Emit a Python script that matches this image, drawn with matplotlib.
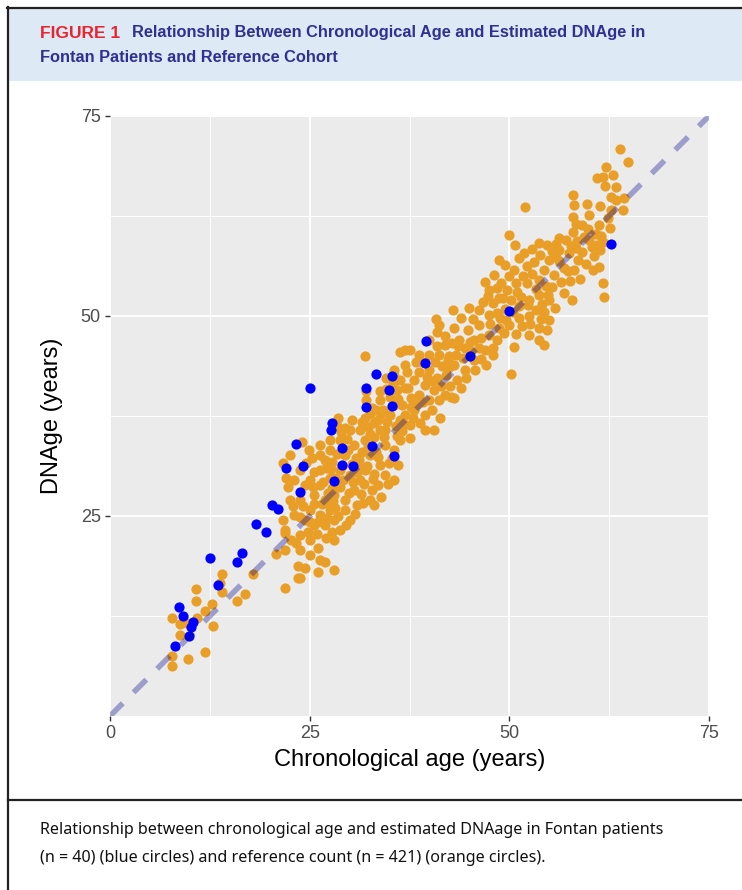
import numpy as np
import matplotlib
matplotlib.use('Agg')
import matplotlib.pyplot as plt
from matplotlib.lines import Line2D
from matplotlib.patches import Rectangle

plt.rcParams['lines.scale_dashes'] = False

# reference cohort (orange): (chronological age, DNAge)
ref_pts = [
    # < 21 y
    (7.8, 12.3), (8.8, 11.5), (8.8, 10.1), (7.8, 7.5), (7.8, 6.2), (9.8, 7.1), (10.8, 15.9),
    (10.8, 14.4), (10.9, 12.3), (11.9, 13.1), (12.8, 14.0), (12.9, 11.3), (11.9, 8.0), (14.0, 17.7),
    (13.8, 16.6), (14.0, 15.5), (15.9, 14.4), (16.9, 15.25), (17.9, 17.7), (20.8, 20.2), (9.6, 11.6),
    # 21-25
    (21.9, 16.0), (21.9, 20.75), (21.9, 22.9), (21.6, 24.5), (22.9, 26.2), (23.5, 18.7), (23.5, 17.25),
    (23.3, 21.6), (22.7, 22.0), (23.75, 24.9), (21.6, 31.6), (22.5, 32.6), (21.9, 23.25), (23.75, 22.6),
    (23.75, 20.75), (24.4, 18.5), (23.75, 17.25), (23.1, 25.1), (22.5, 27.0), (23.75, 27.0), (23.1, 29.5),
    (23.75, 30.75), (24.4, 28.9), (24.4, 24.5), (24.2, 26.3), (24.8, 23.0), (22.3, 28.6), (24.6, 31.6),
    (24.9, 33.3), (24.0, 34.3), (22.0, 29.8),
    # 25-28
    (25.0, 29.5), (25.6, 27.6), (26.9, 27.0), (26.9, 32.0), (26.25, 30.75), (27.5, 29.75), (26.25, 28.9),
    (27.5, 25.75), (26.25, 25.1), (25.0, 25.75), (25.6, 23.9), (26.9, 23.9), (25.0, 22.0), (25.0, 20.1),
    (26.0, 21.0), (26.25, 19.5), (26.0, 18.0), (26.9, 19.25), (27.5, 33.25), (26.25, 33.9), (26.25, 32.6),
    (25.25, 32.25), (27.5, 34.5), (25.6, 26.5), (26.5, 26.5), (27.3, 27.9), (25.5, 30.5), (27.0, 31.0),
    (27.8, 31.8), (26.0, 24.3), (27.2, 24.7), (27.8, 23.0), (25.4, 28.6), (26.7, 29.3), (27.8, 28.5),
    (27.0, 22.3), (25.9, 22.7), (27.3, 26.6), (27.9, 26.9), (25.1, 24.2), (27.7, 30.9),
    # 28-31
    (28.1, 18.25), (28.1, 22.0), (28.75, 23.25), (30.0, 24.5), (29.4, 25.75), (28.1, 24.5), (28.1, 27.6),
    (29.4, 27.0), (30.6, 28.25), (30.9, 26.4), (30.0, 30.1), (28.75, 30.75), (29.4, 32.6), (30.6, 33.9),
    (31.25, 35.75), (30.0, 35.75), (28.75, 34.5), (28.5, 37.25), (29.4, 36.0), (28.8, 28.6), (29.2, 29.5),
    (30.3, 31.5), (29.8, 33.2), (28.4, 32.8), (30.8, 32.2), (28.2, 26.0), (29.9, 27.9), (30.4, 29.3),
    (28.6, 25.0), (29.6, 23.9), (30.7, 25.2), (28.9, 35.5), (29.7, 34.6), (30.3, 37.0), (28.2, 29.7),
    (29.1, 31.3), (28.4, 36.3), (30.9, 30.5),
    # 31-34
    (31.25, 29.5), (32.5, 27.0), (33.1, 26.4), (31.9, 30.75), (33.5, 28.9), (33.75, 31.4), (32.5, 32.6),
    (31.9, 34.5), (33.1, 34.9), (32.25, 36.1), (33.5, 37.0), (33.75, 39.5), (31.9, 37.25), (32.75, 38.5),
    (33.75, 40.6), (31.9, 45.0), (31.6, 33.0), (32.2, 31.2), (33.0, 30.2), (31.4, 27.8), (32.8, 28.2),
    (33.9, 27.4), (31.7, 26.6), (32.3, 33.7), (33.3, 33.0), (31.2, 32.0), (33.8, 35.8), (32.6, 35.3),
    (31.5, 36.8), (33.0, 36.6), (32.1, 39.5), (33.3, 38.2), (31.8, 29.0), (32.9, 29.6), (33.6, 32.4),
    (31.3, 31.0), (32.0, 40.6), (33.9, 37.8), (32.6, 37.8),
    # 34-37
    (34.4, 30.1), (35.6, 29.5), (34.4, 33.9), (35.6, 33.25), (36.25, 34.5), (34.4, 35.75), (35.0, 37.6),
    (35.6, 38.9), (36.25, 37.0), (36.9, 37.6), (36.9, 41.0), (36.25, 42.0), (36.9, 43.9), (36.25, 45.5),
    (35.6, 43.25), (36.9, 45.75), (34.9, 31.6), (35.3, 32.2), (36.0, 31.4), (34.7, 36.8), (35.8, 36.2),
    (36.5, 35.6), (34.2, 38.3), (35.1, 39.9), (36.1, 39.6), (34.6, 40.9), (35.4, 41.5), (36.6, 38.9),
    (34.8, 29.0), (34.3, 34.9), (35.9, 35.0), (36.8, 36.5), (35.5, 42.5), (34.5, 42.3), (35.9, 40.7),
    # 37-40
    (37.5, 45.75), (38.75, 45.1), (38.75, 43.0), (38.1, 42.0), (39.4, 41.4), (38.75, 40.1), (37.75, 39.75),
    (38.1, 38.25), (39.4, 37.6), (39.4, 35.75), (37.5, 36.4), (37.5, 34.75), (40.0, 39.5), (40.0, 43.25),
    (40.0, 45.1), (40.0, 47.0), (37.3, 41.0), (38.4, 39.0), (39.2, 39.3), (37.9, 37.2), (38.8, 36.6),
    (39.7, 42.4), (38.3, 44.2), (37.2, 43.0), (39.1, 44.3), (37.7, 38.6),
    # 40-43
    (40.6, 40.75), (41.9, 40.1), (42.75, 39.9), (41.25, 39.5), (40.6, 35.75), (41.25, 48.9), (41.0, 48.0),
    (41.9, 46.4), (42.5, 45.0), (41.25, 45.1), (41.0, 42.25), (42.1, 42.6), (42.9, 50.75), (43.1, 48.5),
    (40.7, 44.2), (41.6, 43.8), (42.4, 43.6), (40.4, 41.9), (41.5, 41.2), (42.6, 41.3), (40.9, 46.3),
    (42.0, 47.5), (42.8, 46.6), (40.3, 38.3), (41.3, 37.3), (42.3, 44.5), (40.8, 49.6),
    # 43-46
    (43.1, 43.9), (44.4, 43.25), (43.5, 42.0), (43.1, 39.75), (43.75, 47.0), (44.4, 46.0), (45.6, 47.0),
    (45.6, 44.5), (45.0, 51.0), (43.3, 45.1), (44.2, 44.8), (45.2, 45.6), (44.8, 48.3), (45.4, 49.6),
    (43.9, 49.8), (44.6, 42.3), (45.7, 43.3), (44.0, 41.0), (45.1, 46.7), (43.6, 46.3),
    # 46-49
    (46.25, 50.75), (47.5, 50.1), (46.25, 48.9), (47.5, 47.6), (46.9, 45.75), (48.4, 47.0), (48.0, 46.0),
    (48.75, 48.5), (47.1, 43.9), (47.5, 53.25), (46.9, 54.25), (48.1, 55.1), (48.75, 52.25), (48.75, 57.0),
    (49.0, 54.1), (46.7, 51.8), (47.9, 51.6), (48.4, 50.4), (46.4, 47.3), (47.6, 49.0), (48.8, 49.7),
    (46.2, 46.0), (47.9, 45.1), (48.5, 53.5), (47.3, 52.5), (46.5, 44.6),
    # 49-52
    (49.4, 56.4), (50.0, 60.1), (50.75, 58.9), (51.25, 57.25), (50.6, 55.75), (50.25, 52.0), (51.5, 52.4),
    (51.25, 49.75), (50.0, 48.9), (50.6, 46.1), (50.25, 42.75), (51.9, 63.6), (49.5, 50.9), (50.4, 50.5),
    (51.2, 51.2), (49.7, 53.3), (50.8, 54.1), (51.7, 55.0), (49.3, 47.9), (50.8, 47.8), (51.6, 48.8),
    (49.6, 49.5), (51.0, 53.0), (49.9, 55.0), (51.8, 57.9), (49.2, 52.2),
    # 52-55
    (52.5, 52.0), (53.75, 52.6), (54.4, 50.5), (52.5, 50.0), (53.75, 48.5), (54.75, 48.25), (53.75, 47.0),
    (52.25, 54.1), (53.75, 54.5), (54.4, 55.75), (53.1, 56.75), (55.0, 57.0), (54.75, 58.9), (53.75, 59.1),
    (52.9, 58.4), (53.4, 53.4), (54.6, 53.8), (52.3, 51.4), (53.3, 50.8), (54.1, 51.5), (52.6, 49.0),
    (54.0, 49.6), (52.2, 56.2), (53.9, 57.6), (52.4, 47.6), (54.3, 46.4), (54.9, 52.6), (52.8, 55.2),
    # 55-58
    (55.0, 52.0), (55.0, 49.5), (55.6, 55.1), (56.9, 56.0), (56.25, 58.25), (56.25, 59.75), (57.5, 57.9),
    (57.9, 52.0), (55.8, 57.4), (56.5, 54.3), (57.3, 55.6), (57.7, 58.8), (55.4, 53.6), (56.8, 52.9),
    (55.9, 59.0), (57.1, 59.5), (56.2, 56.9), (57.6, 54.4), (55.3, 58.1), (55.7, 51.0),
    # 58-61
    (58.0, 65.1), (58.1, 63.9), (58.0, 62.4), (60.0, 62.6), (58.0, 60.5), (58.5, 59.4), (60.0, 59.5),
    (61.0, 58.9), (59.1, 58.0), (60.6, 57.5), (58.1, 55.75), (59.75, 64.0), (61.0, 67.25), (58.6, 57.0),
    (59.4, 59.9), (60.3, 58.6), (59.6, 56.5), (58.3, 58.5), (60.8, 60.3), (59.1, 61.4), (60.5, 55.8),
    (58.9, 54.6), (59.8, 60.9), (58.4, 61.5),
    # 61+
    (63.9, 70.9), (64.9, 69.25), (62.1, 68.6), (61.75, 67.4), (62.0, 66.25), (63.4, 66.1), (62.75, 64.9),
    (64.25, 63.25), (62.75, 63.25), (61.25, 61.4), (61.75, 59.25), (61.25, 56.1), (61.75, 54.1),
    (61.9, 52.4), (61.5, 60.0), (62.3, 62.3), (61.4, 58.3), (63.3, 64.5), (62.6, 61.0), (61.3, 63.7),
    (63.0, 67.6), (64.3, 64.8),
]

# Fontan patients (blue)
fontan_pts = [
    (8.1, 8.8), (8.6, 13.6), (9.1, 12.5), (10.4, 11.8), (10.1, 11.1), (9.9, 10.0), (13.5, 16.4),
    (12.5, 19.8), (16.5, 20.4), (15.9, 19.25), (18.3, 24.0), (19.5, 23.0), (20.3, 26.4), (21.0, 25.9),
    (22.0, 31.0), (23.75, 28.0), (23.25, 34.0), (24.2, 31.3), (25.1, 41.0), (27.7, 35.8), (27.8, 36.6),
    (28.1, 29.4), (29.0, 33.5), (29.0, 31.4), (30.4, 31.3), (32.0, 41.0), (32.0, 38.6), (32.8, 33.75),
    (33.3, 42.8), (34.9, 40.7), (35.25, 42.5), (35.25, 38.75), (35.5, 32.5), (39.5, 44.1), (39.6, 46.9),
    (45.1, 45.0), (49.9, 50.6), (62.75, 59.0),
]

ref_age, ref_dnage = np.array(ref_pts).T
fon_age, fon_dnage = np.array(fontan_pts).T

x_ticks = [0, 25, 50, 75]
y_ticks = [25, 50, 75]

W, H = 742, 890


def fx(px):
    return px / W


def fy(py):
    return 1 - py / H


fig = plt.figure(figsize=(W / 100, H / 100), dpi=100)

# header box and frame
fig.patches.append(Rectangle((fx(9), fy(81)), fx(742) - fx(9), fy(9) - fy(81),
                             transform=fig.transFigure, color='#DDE9F5', lw=0, zorder=0))
for xs, ys in [([7, 742], [7.5, 7.5]), ([8, 8], [7, 890]), ([8, 742], [800, 800])]:
    fig.lines.append(Line2D([fx(v) for v in xs], [fy(v) for v in ys],
                            transform=fig.transFigure, color='#222222', lw=1.6))

hfam = ['Liberation Sans']
fig.text(fx(40), fy(33), 'FIGURE 1', color='#E8252F', fontsize=12.5, weight='bold',
         family=['Liberation Sans'], va='center', ha='left')
fig.text(fx(132), fy(33), 'Relationship Between Chronological Age and Estimated DNAge in',
         color='#2E3192', fontsize=11.8, weight='bold', family=hfam, va='center', ha='left')
fig.text(fx(40), fy(58), 'Fontan Patients and Reference Cohort',
         color='#2E3192', fontsize=11.8, weight='bold', family=hfam, va='center', ha='left')

fig.text(fx(40), fy(830), 'Relationship between chronological age and estimated DNAage in Fontan patients',
         fontsize=11.6, family=['Noto Sans'], va='center', ha='left', color='#111111')
fig.text(fx(40), fy(858), '(n = 40) (blue circles) and reference count (n = 421) (orange circles).',
         fontsize=11.6, family=['Noto Sans'], va='center', ha='left', color='#111111')

# scatter panel
ax = fig.add_axes([fx(110), fy(716), fx(709) - fx(110), fy(116) - fy(716)])
ax.set_facecolor('#EBEBEB')
for s in ax.spines.values():
    s.set_visible(False)

ax.scatter(ref_age, ref_dnage, s=54, color='#E99F27', lw=0, zorder=3)
ax.scatter(fon_age, fon_dnage, s=54, color='#0000FF', lw=0, zorder=4)
ax.plot([0, 75], [0, 75], color='darkblue', alpha=0.33, lw=4, dashes=(13, 11),
        dash_capstyle='butt', zorder=5)

ax.set_xlim(0, 75)
ax.set_ylim(0, 75)
ax.set_xticks(x_ticks)
ax.set_yticks(y_ticks)
ax.set_xticks([12.5, 37.5, 62.5], minor=True)
ax.set_yticks([12.5, 37.5, 62.5], minor=True)
ax.grid(True, which='major', color='white', lw=1.4, zorder=0)
ax.grid(True, which='minor', color='white', lw=0.7, zorder=0)
ax.set_axisbelow(True)
ax.tick_params(which='major', length=3.6, width=1, color='#333333', labelcolor='#4D4D4D',
               labelsize=13, pad=3)
ax.tick_params(which='minor', length=0)
for lab in ax.get_xticklabels() + ax.get_yticklabels():
    lab.set_family('Liberation Sans')

ax.set_xlabel('Chronological age (years)', fontsize=17, family='Liberation Sans', labelpad=5)
ax.set_ylabel('DNAge (years)', fontsize=17, family='Liberation Sans', labelpad=13)

fig.savefig('out.png', dpi=100)
